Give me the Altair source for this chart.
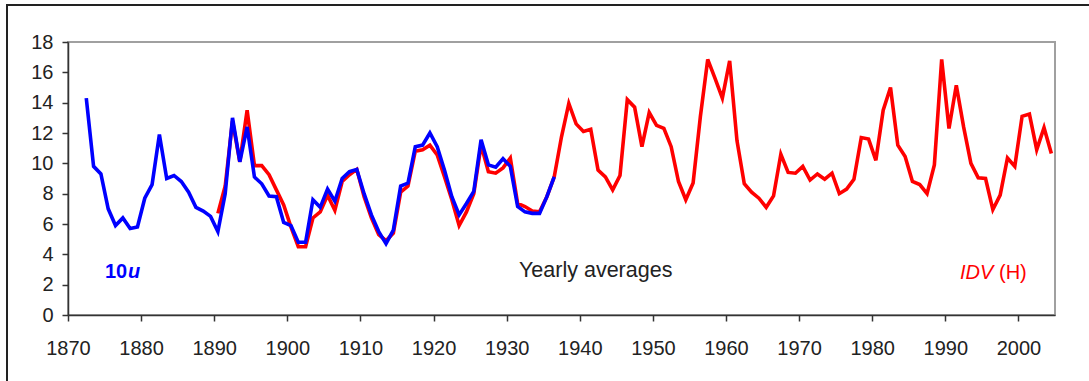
import altair as alt
import pandas as pd

# Yearly averages, 10u index (blue) and IDV(H) index (red)
u_years = list(range(1872, 1937))
u_values = [
    14.3, 9.8, 9.3, 7.0, 5.9, 6.4, 5.7, 5.8, 7.7, 8.6,
    11.9, 9.0, 9.2, 8.8, 8.1, 7.1, 6.85, 6.5, 5.5, 8.0,
    13.0, 10.1, 12.4, 9.1, 8.65, 7.85, 7.8, 6.1, 5.9, 4.8,
    4.8, 7.6, 7.1, 8.3, 7.5, 9.0, 9.45, 9.6, 8.0, 6.6,
    5.5, 4.7, 5.6, 8.5, 8.7, 11.1, 11.2, 12.0, 11.1, 9.55,
    7.8, 6.6, 7.35, 8.15, 11.55, 9.9, 9.75, 10.3, 9.8, 7.15,
    6.8, 6.7, 6.7, 7.8, 9.1,
]

idv_years = list(range(1890, 2005))
idv_values = [
    6.7, 8.5, 12.8, 10.1, 13.5, 9.85, 9.85, 9.25, 8.25, 7.25,
    5.8, 4.5, 4.5, 6.4, 6.8, 7.9, 6.9, 8.8, 9.25, 9.6,
    7.8, 6.4, 5.3, 4.9, 5.4, 8.1, 8.5, 10.8, 10.9, 11.2,
    10.55, 9.1, 7.6, 5.9, 6.8, 8.0, 11.2, 9.45, 9.35, 9.7,
    10.35, 7.35, 7.15, 6.85, 6.8, 7.8, 9.1, 11.75, 13.95, 12.6,
    12.1, 12.25, 9.55, 9.1, 8.25, 9.2, 14.2, 13.7, 11.1, 13.35,
    12.5, 12.3, 11.1, 8.8, 7.6, 8.7, 13.1, 16.85, 15.6, 14.3,
    16.75, 11.5, 8.65, 8.1, 7.7, 7.1, 7.85, 10.6, 9.4, 9.35,
    9.8, 8.9, 9.3, 8.95, 9.35, 8.0, 8.3, 8.95, 11.7, 11.6,
    10.2, 13.5, 15.0, 11.2, 10.45, 8.8, 8.6, 8.0, 9.9, 16.85,
    12.3, 15.15, 12.4, 10.0, 9.05, 9.0, 6.95, 7.9, 10.35, 9.8,
    13.1, 13.25, 10.9, 12.35, 10.65,
]

x_ticks = list(range(1870, 2001, 10))
y_ticks = list(range(0, 19, 2))

u_df = pd.DataFrame({"year": u_years, "value": u_values})
idv_df = pd.DataFrame({"year": idv_years, "value": idv_values})

FONT = "Liberation Sans"

x_enc = alt.X(
    "mid:Q",
    scale=alt.Scale(domain=[1870, 2005], nice=False, zero=False),
    axis=alt.Axis(
        values=x_ticks, format="d", title=None, grid=False,
        labelFlush=False, labelOverlap=False, labelPadding=17,
    ),
)
y_enc = alt.Y(
    "value:Q",
    scale=alt.Scale(domain=[0, 18], nice=False),
    axis=alt.Axis(
        values=y_ticks, tickCount=10, title=None, grid=False,
        labelFlush=False, labelOverlap=False, labelPadding=9,
    ),
)

# values are yearly means, plotted at the middle of each year
idv_line = (
    alt.Chart(idv_df)
    .transform_calculate(mid="datum.year + 0.5")
    .mark_line(color="#ff0000", strokeWidth=3.6)
    .encode(x=x_enc, y=y_enc)
)
u_line = (
    alt.Chart(u_df)
    .transform_calculate(mid="datum.year + 0.5")
    .mark_line(color="#0000ff", strokeWidth=3.6)
    .encode(x=x_enc, y=y_enc)
)

one = pd.DataFrame({"k": [0]})

# outer chart-area frame (left and top edges)
frame_left = alt.Chart(one).mark_rule(color="#222", strokeWidth=2, clip=False).encode(
    x=alt.value(-61), y=alt.value(-37), y2=alt.value(400)
)
frame_top = alt.Chart(one).mark_rule(color="#222", strokeWidth=2, clip=False).encode(
    x=alt.value(-62), x2=alt.value(1100), y=alt.value(-37)
)

label_u_num = alt.Chart(one).mark_text(
    text="10", font=FONT, fontSize=20, fontWeight="bold", color="#0000ff",
    align="left", baseline="middle",
).encode(x=alt.value(37), y=alt.value(230))
label_u_var = alt.Chart(one).mark_text(
    text="u", font=FONT, fontSize=20, fontWeight="bold", fontStyle="italic",
    color="#0000ff", align="left", baseline="middle",
).encode(x=alt.value(60), y=alt.value(230))

label_mid = alt.Chart(one).mark_text(
    text="Yearly averages", font=FONT, fontSize=21.5, color="#222",
    align="left", baseline="middle",
).encode(x=alt.value(451), y=alt.value(229))

label_idv = alt.Chart(one).mark_text(
    text="IDV", font=FONT, fontSize=20, fontStyle="italic", color="#ff0000",
    align="left", baseline="middle",
).encode(x=alt.value(892), y=alt.value(231))
label_h = alt.Chart(one).mark_text(
    text="(H)", font=FONT, fontSize=20, color="#ff0000",
    align="left", baseline="middle",
).encode(x=alt.value(931), y=alt.value(231))

chart = (
    alt.layer(
        idv_line, u_line, frame_left, frame_top,
        label_u_num, label_u_var, label_mid, label_idv, label_h,
    )
    .properties(
        width=987, height=273, autosize="none",
        padding={"left": 68, "top": 42, "right": 34, "bottom": 66},
        background="white",
    )
    .configure_view(stroke="#a0a0a0", strokeWidth=2)
    .configure_axis(
        domainColor="#333", domainWidth=1.5, tickColor="#333", tickWidth=1.5,
        tickSize=6, labelFont=FONT, labelFontSize=20, labelColor="#222",
    )
)

chart.save("out.html", embed_options={"renderer": "svg", "actions": False})
